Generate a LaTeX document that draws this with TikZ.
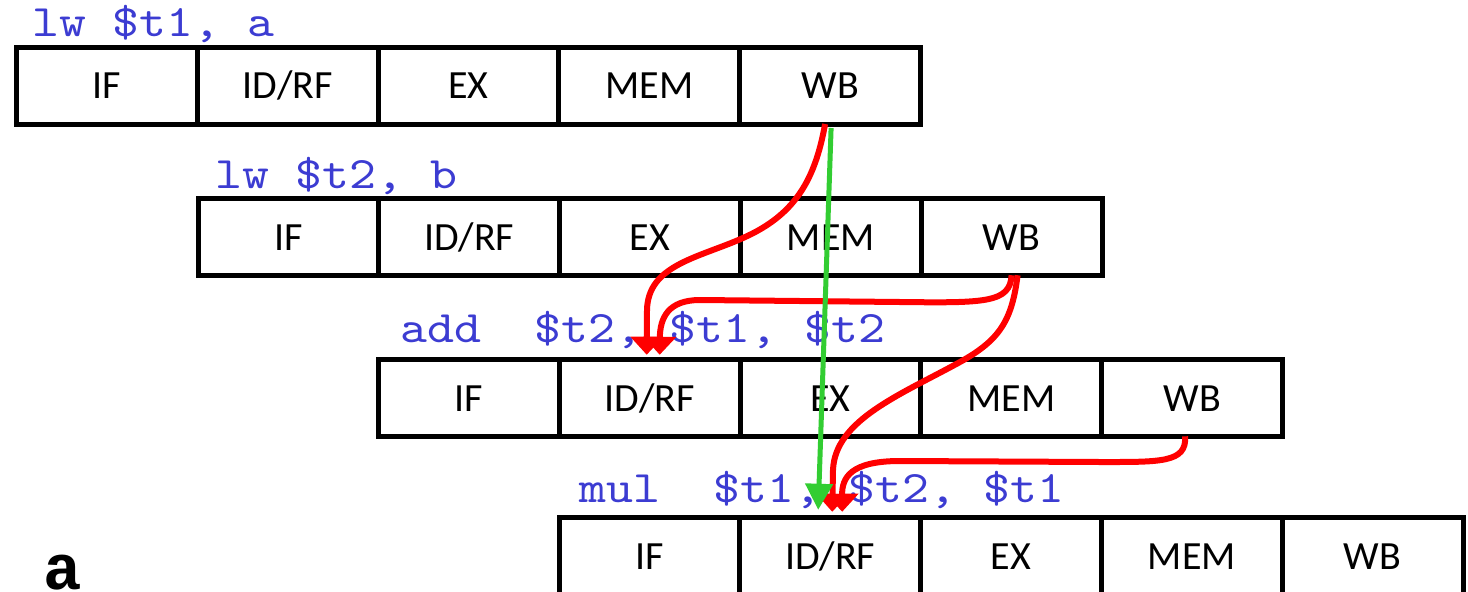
\documentclass[tikz,border=0pt]{standalone}
\usepackage{fontspec}
\usetikzlibrary{arrows.meta,calc}
\newfontfamily\cellfont{Carlito}
\newfontfamily\codefont[FakeStretch=1.14]{lmmono10-regular.otf}
\newfontfamily\markfont{Liberation Mono}
\definecolor{codeblue}{RGB}{60,60,210}
\definecolor{fwdred}{RGB}{255,0,0}
\definecolor{fwdgreen}{RGB}{50,205,50}
\newcommand\idrftext{ID/RF}
\begin{document}
\begin{tikzpicture}[x=1pt,y=-1pt,
  cell/.style={draw=black, line width=5pt, minimum width=180.8pt, minimum height=76.5pt,
    inner sep=0pt, outer sep=0pt, font=\cellfont\fontsize{40}{48}\selectfont,
    text height=26pt, text depth=0pt},
  code/.style={anchor=base west, inner sep=0pt, text=codeblue,
    font=\codefont\fontsize{45}{54}\selectfont},
  redfwd/.style={draw=fwdred, line width=6pt, -{Triangle[width=32pt,length=18pt]}},
  greenfwd/.style={draw=fwdgreen, line width=5pt, -{Triangle[width=27pt,length=26pt]}}]
\useasboundingbox (0,0) rectangle (1468,592);
% pipeline rows
\foreach \r/\xo/\yc in {1/16.5/85.75, 2/198/237, 3/378.5/398, 4/559/556}{
  \foreach \c/\t in {1/IF, 2/\idrftext, 3/EX, 4/MEM, 5/WB}{
    \node[cell] (r\r-\c) at ({\xo+(\c-0.5)*180.8},\yc) {\t};
  }
}
% instruction labels
\node[code] (lab1) at (32,36) {lw \$t1, a};
\node[code] (lab2) at (215,188) {lw \$t2, b};
\node[code] (lab3) at (400,342) {add\ \ \$t2, \$t1, \$t2};
\node[code] (lab4) at (579,502) {mul\ \ \$t1, \$t2, \$t1};
\node[anchor=base west, inner sep=0pt, font=\markfont\bfseries\fontsize{64}{74}\selectfont] (mark) at (43,589) {a};
% forwarding arrows
\draw[redfwd] ([xshift=-5pt]r1-5.south) .. controls (815,180) and (795,215) .. (743,238)
  .. controls (698,258) and (648,265) .. (647,310) -- ([xshift=-3pt,yshift=5pt]r3-2.north);
\draw[redfwd] (r2-5.south) .. controls (1010,303) and (985,303) .. (900,302) -- (700,300)
  .. controls (668,300) and (660,318) .. ([xshift=10pt,yshift=5pt]r3-2.north);
\draw[redfwd] ([xshift=6pt]r2-5.south) .. controls (1012,320) and (1000,340) .. (960,362)
  .. controls (900,395) and (835,420) .. (833,470) -- ([xshift=2pt,yshift=6pt]r4-2.north);
\draw[redfwd] ([xshift=-7pt]r3-5.south) .. controls (1187,463) and (1160,462) .. (1100,462)
  -- (900,461) .. controls (850,461) and (842,478) .. ([xshift=12pt,yshift=6pt]r4-2.north);
\draw[greenfwd] ([xshift=1pt,yshift=-4pt]r1-5.south) -- ([xshift=-12pt,yshift=8pt]r4-2.north);
\end{tikzpicture}
\end{document}
